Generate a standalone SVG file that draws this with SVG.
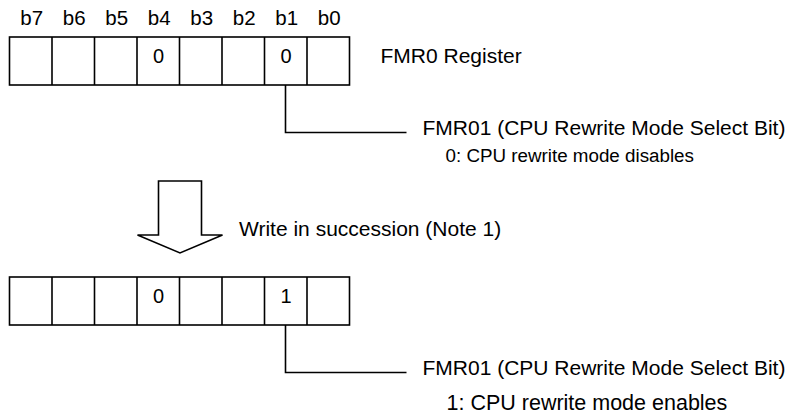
<svg xmlns="http://www.w3.org/2000/svg" width="791" height="417" viewBox="0 0 791 417">
  <style>
    text { font-family: "Liberation Sans", Arial, sans-serif; fill: #000; }
    .lbl { font-size: 21px; }
    .sub { font-size: 18.8px; }
    .sub-lg { font-size: 21.5px; }
    .bit { font-size: 20.5px; text-anchor: middle; }
    .val { font-size: 20px; text-anchor: middle; }
    .cell { fill: #fff; stroke: #000; stroke-width: 1.6; }
    .wire { fill: none; stroke: #000; stroke-width: 1.6; }
  </style>
  <defs>
    <g id="reg8">
      <rect class="cell" x="9.5" y="0" width="340" height="48"/>
      <path class="wire" d="M52,0V48M94.5,0V48M137,0V48M179.5,0V48M222,0V48M264.5,0V48M307,0V48"/>
    </g>
  </defs>

  <!-- bit position header -->
  <g id="bit-labels">
    <text class="bit" x="31.75" y="25">b7</text>
    <text class="bit" x="74.25" y="25">b6</text>
    <text class="bit" x="116.75" y="25">b5</text>
    <text class="bit" x="159.25" y="25">b4</text>
    <text class="bit" x="201.75" y="25">b3</text>
    <text class="bit" x="244.25" y="25">b2</text>
    <text class="bit" x="286.75" y="25">b1</text>
    <text class="bit" x="329.25" y="25">b0</text>
  </g>

  <!-- FMR0 before the write -->
  <g id="reg-before">
    <use href="#reg8" y="37"/>
    <text class="val" x="158.5" y="63">0</text>
    <text class="val" x="286" y="63">0</text>
    <text class="lbl" x="380.5" y="63">FMR0 Register</text>
  </g>

  <g id="note-before">
    <text class="lbl" x="422.5" y="135">FMR01 (CPU Rewrite Mode Select Bit)</text>
    <text class="sub" x="445.5" y="162">0: CPU rewrite mode disables</text>
  </g>

  <!-- transition arrow -->
  <g id="step-arrow">
    <polygon points="158.5,181 201.5,181 201.5,235 222.5,235 180,253 137.5,235 158.5,235" fill="#fff" stroke="#000" stroke-width="1.6"/>
    <text class="lbl" x="239" y="236">Write in succession (Note 1)</text>
  </g>

  <!-- FMR0 after the write -->
  <g id="reg-after">
    <use href="#reg8" y="277"/>
    <text class="val" x="158.5" y="303">0</text>
    <text class="val" x="286" y="303">1</text>
  </g>

  <g id="note-after">
    <text class="lbl" x="422.5" y="375">FMR01 (CPU Rewrite Mode Select Bit)</text>
    <text class="sub-lg" x="446.5" y="410">1: CPU rewrite mode enables</text>
  </g>

  <!-- leader lines from bit b1 -->
  <g id="connectors">
    <path class="wire" d="M285.5,85V132.5H406.5"/>
    <path class="wire" d="M285.5,325V372.5H406.5"/>
  </g>
</svg>
